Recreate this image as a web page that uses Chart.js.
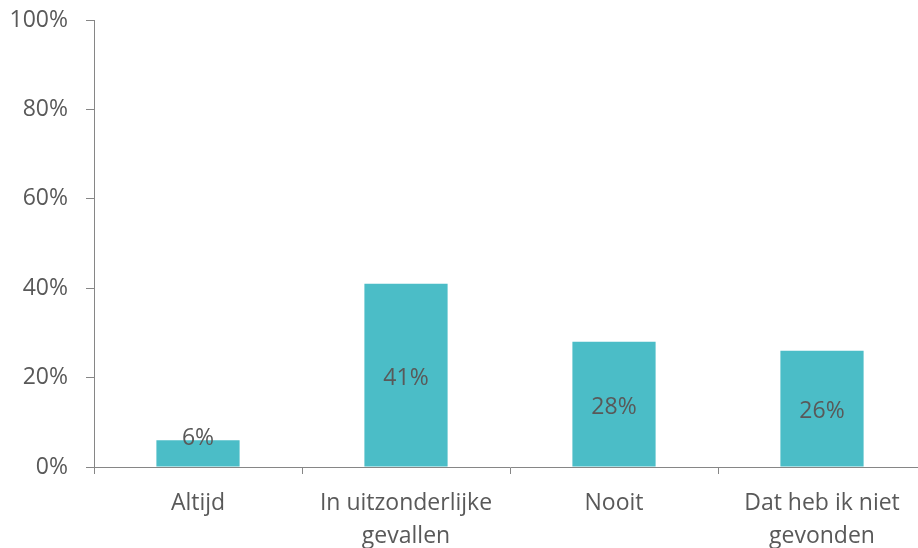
<!DOCTYPE html>
<html lang="nl">
<head>
    <meta charset="UTF-8">
    <title>Staafdiagram</title>
    <script src="https://cdn.jsdelivr.net/npm/chart.js"></script>
    <style>
        html, body { margin: 0; padding: 0; overflow: hidden; background: #fff; }
        #wrap { width: 926px; height: 548px; }
    </style>
</head>
<body>
    <div id="wrap"><canvas id="myChart"></canvas></div>

    <script>
        // Gegevens
        const categories = [
            'Altijd',
            ['In uitzonderlijke', 'gevallen'],
            'Nooit',
            ['Dat heb ik niet', 'gevonden']
        ];
        const values = [6, 41, 28, 26];
        const tickValues = [0, 20, 40, 60, 80, 100];

        const textColor = '#595959';
        const axisColor = '#868686';
        const barColor = '#4BBDC7';
        const fontFamily = '"Open Sans", "DejaVu Sans", sans-serif';

        // Labels in het midden van de staaf
        const barLabels = {
            id: 'barLabels',
            afterDatasetsDraw(chart) {
                const ctx = chart.ctx;
                const meta = chart.getDatasetMeta(0);
                ctx.save();
                ctx.font = '23px ' + fontFamily;
                ctx.fillStyle = textColor;
                ctx.textAlign = 'center';
                ctx.textBaseline = 'middle';
                meta.data.forEach((bar, i) => {
                    const mid = (bar.y + bar.base) / 2 + 3;
                    const y = Math.min(mid, bar.base - 28);
                    ctx.fillText(values[i] + '%', bar.x, y);
                });
                ctx.restore();
            }
        };

        const ctx = document.getElementById('myChart').getContext('2d');
        const myChart = new Chart(ctx, {
            type: 'bar',
            data: {
                labels: categories,
                datasets: [{
                    data: values,
                    backgroundColor: barColor,
                    borderWidth: 0,
                    barPercentage: 0.4,
                    categoryPercentage: 1
                }]
            },
            options: {
                responsive: true,
                maintainAspectRatio: false,
                animation: false,
                layout: { padding: { left: 10, top: 0, right: 0, bottom: 0 } },
                plugins: {
                    legend: { display: false },
                    tooltip: { enabled: false }
                },
                scales: {
                    x: {
                        afterFit(axis) { axis.height = 81; },
                        grid: {
                            drawOnChartArea: false,
                            drawTicks: true,
                            tickLength: 7,
                            color: axisColor,
                            offset: true
                        },
                        border: { color: axisColor, width: 1 },
                        ticks: {
                            color: textColor,
                            font: { family: fontFamily, size: 23, lineHeight: 1.43 },
                            padding: 13,
                            maxRotation: 0,
                            autoSkip: false
                        }
                    },
                    y: {
                        min: 0,
                        max: 100,
                        afterFit(axis) {
                            axis.width = 84;
                            axis.paddingTop = 20;
                            axis.paddingBottom = 0;
                        },
                        afterBuildTicks(axis) {
                            axis.ticks = tickValues.map(v => ({ value: v }));
                        },
                        grid: {
                            drawOnChartArea: false,
                            drawTicks: true,
                            tickLength: 8,
                            color: axisColor
                        },
                        border: { color: axisColor, width: 1 },
                        ticks: {
                            color: textColor,
                            font: { family: fontFamily, size: 23 },
                            padding: 18,
                            callback: v => v + '%'
                        }
                    }
                }
            },
            plugins: [barLabels]
        });
    </script>
</body>
</html>
